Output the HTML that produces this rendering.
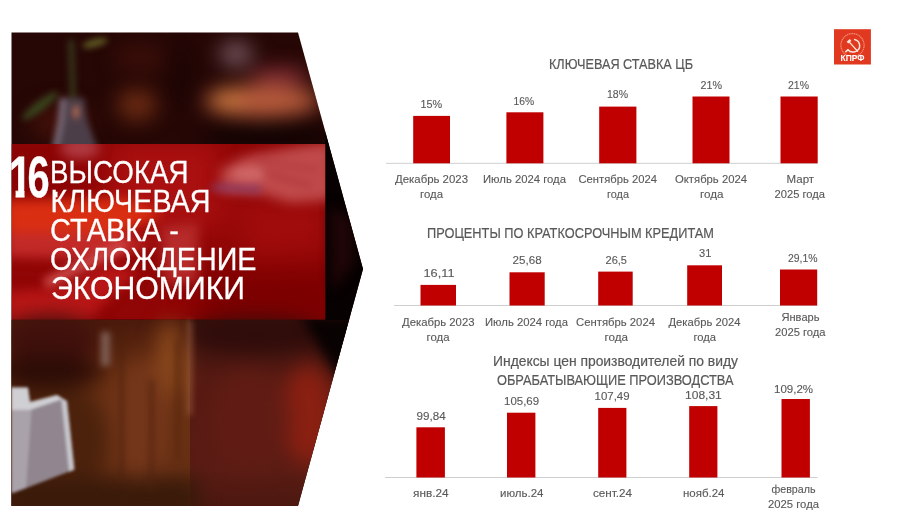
<!DOCTYPE html>
<html lang="ru">
<head>
<meta charset="utf-8">
<title>Высокая ключевая ставка - охлаждение экономики</title>
<style>
html,body{margin:0;padding:0;background:#fff;}
body{width:900px;height:517px;overflow:hidden;}
svg{display:block;font-family:"Liberation Sans", sans-serif;}
</style>
</head>
<body>
<svg width="900" height="517" viewBox="0 0 900 517">
<rect width="900" height="517" fill="#fff"/>
<defs>
<clipPath id="pc"><polygon points="11.5,32.5 298,32.5 363,269 298,506 11.5,506"/></clipPath>
<clipPath id="bc"><rect x="11.5" y="144" width="314" height="175.8"/></clipPath>
<filter id="b14" color-interpolation-filters="sRGB" x="-50%" y="-50%" width="200%" height="200%"><feGaussianBlur stdDeviation="14"/></filter>
<filter id="b10" color-interpolation-filters="sRGB" x="-50%" y="-50%" width="200%" height="200%"><feGaussianBlur stdDeviation="10"/></filter>
<filter id="b6" color-interpolation-filters="sRGB" x="-50%" y="-50%" width="200%" height="200%"><feGaussianBlur stdDeviation="6"/></filter>
<filter id="b4" color-interpolation-filters="sRGB" x="-50%" y="-50%" width="200%" height="200%"><feGaussianBlur stdDeviation="4"/></filter>
<filter id="b3" color-interpolation-filters="sRGB" x="-50%" y="-50%" width="200%" height="200%"><feGaussianBlur stdDeviation="3"/></filter>
<filter id="b15" color-interpolation-filters="sRGB" x="-50%" y="-50%" width="200%" height="200%"><feGaussianBlur stdDeviation="1.5"/></filter>
<linearGradient id="wood" x1="0" y1="0" x2="0" y2="1">
<stop offset="0" stop-color="#4a1a0c"/><stop offset="0.3" stop-color="#6a3012"/><stop offset="0.75" stop-color="#683014"/><stop offset="1" stop-color="#4c220e"/>
</linearGradient>
<linearGradient id="woodr" x1="0" y1="0" x2="0" y2="1">
<stop offset="0" stop-color="#36100c"/><stop offset="0.3" stop-color="#561a12"/><stop offset="0.75" stop-color="#5a1c14"/><stop offset="1" stop-color="#46160e"/>
</linearGradient>
<linearGradient id="fade" x1="0" y1="0" x2="0" y2="1"><stop offset="0" stop-color="#070101"/><stop offset="1" stop-color="#070101" stop-opacity="0"/></linearGradient>
<clipPath id="lc"><rect x="0" y="319.8" width="400" height="200"/></clipPath>
</defs>
<g clip-path="url(#pc)">
<rect x="0" y="20" width="380" height="500" fill="#260705"/>
<!-- top bokeh -->
<g filter="url(#b10)">
<ellipse cx="137" cy="105" rx="20" ry="16" fill="#6a2a12"/>
<ellipse cx="60" cy="122" rx="30" ry="18" fill="#42100a"/>
<ellipse cx="140" cy="58" rx="26" ry="14" fill="#3a0e08"/>
<ellipse cx="262" cy="101" rx="58" ry="16" fill="#b85c3c"/>
<ellipse cx="228" cy="100" rx="16" ry="9" fill="#d08040"/>
<ellipse cx="280" cy="76" rx="30" ry="8" fill="#8a3038"/>
<ellipse cx="236" cy="54" rx="17" ry="13" fill="#72525a"/>
<ellipse cx="182" cy="75" rx="12" ry="36" fill="#1c0504"/>
<ellipse cx="270" cy="136" rx="70" ry="10" fill="#0c0202"/>
</g>
<!-- plant + bottle -->
<g filter="url(#b3)">
<path d="M71 40 L73 100" stroke="#36361a" stroke-width="6" fill="none"/>
<ellipse cx="95" cy="43" rx="13" ry="4" fill="#5e5a22" transform="rotate(-15 95 43)"/>
<ellipse cx="40" cy="106" rx="22" ry="5" fill="#38421c" transform="rotate(-38 40 106)"/>
<path d="M60 98 L84 98 L87 120 L98 150 L52 150 L58 120 Z" fill="#4c3e48"/>
<path d="M60 98 L66 98 L64 122 L58 150 L52 150 L58 120 Z" fill="#7a6c7a"/>
<rect x="73" y="106" width="6" height="12" fill="#b06650"/>
</g>
<!-- red box region (final colours) -->
<g clip-path="url(#bc)">
<rect x="11.5" y="144" width="314" height="175.8" fill="#900505"/>
<g filter="url(#b14)">
<rect x="200" y="270" width="140" height="60" fill="#7c0000"/>
<rect x="0" y="150" width="60" height="40" fill="#860404"/>
<rect x="110" y="140" width="110" height="90" fill="#aa1010"/>
<path d="M225 200 L330 195 L330 250 L250 260 Z" fill="#a00c0c"/>
</g>
<g filter="url(#b6)">
<ellipse cx="80" cy="148" rx="20" ry="11" fill="#b03a42"/>
<path d="M5 200 L125 198 L165 214 L120 233 L5 233 Z" fill="#da2e12"/>
<path d="M5 233 L120 233 L155 246 L100 259 L5 257 Z" fill="#c22a28"/>
<path d="M5 292 L60 288 L110 264 L140 272 L105 302 L85 326 L5 326 Z" fill="#b81616"/>
<path d="M160 227 L198 222 L198 282 L165 284 Z" fill="#b62a2a"/>
<path d="M220 170 L245 156 L300 146 L332 142 L332 200 L290 203 L262 194 L222 192 Z" fill="#c04a4a"/>
</g>
<g filter="url(#b4)">
<path d="M45 284 L125 244" stroke="#cc4646" stroke-width="11" fill="none"/>
<ellipse cx="250" cy="174" rx="18" ry="7" fill="#cf6666"/>
<path d="M262 172 L312 186" stroke="#a83038" stroke-width="3" fill="none"/>
<path d="M258 160 L318 170" stroke="#a83038" stroke-width="2.5" fill="none"/>
<path d="M212 184 L262 186 L261 193 L212 191 Z" fill="#8a3a62"/>
</g>
</g>
<!-- bottom: wood -->
<rect x="0" y="319.8" width="190" height="200" fill="url(#wood)"/>
<rect x="190" y="319.8" width="190" height="200" fill="url(#woodr)"/>
<g filter="url(#b10)">
<ellipse cx="170" cy="360" rx="14" ry="40" fill="#8a481c"/>
<ellipse cx="140" cy="420" rx="30" ry="60" fill="#74361a"/>
<ellipse cx="308" cy="415" rx="26" ry="50" fill="#8a2012"/>
<ellipse cx="250" cy="420" rx="40" ry="50" fill="#601c14"/>
<ellipse cx="50" cy="340" rx="50" ry="24" fill="#40100c"/>
<ellipse cx="50" cy="440" rx="60" ry="60" fill="#4c220c"/>
<ellipse cx="45" cy="372" rx="60" ry="16" fill="#2c0c06"/>
<rect x="0" y="478" width="200" height="40" fill="#3a1a0a"/>
<ellipse cx="255" cy="335" rx="70" ry="16" fill="#2e0c0a"/>
</g>
<g filter="url(#b3)">
<rect x="101" y="332" width="9" height="34" fill="#7c5c52"/>
<rect x="188.5" y="320" width="2.5" height="95" fill="#b07050"/>
<rect x="120" y="330" width="3" height="150" fill="#4a200c"/>
<rect x="150" y="380" width="3" height="110" fill="#4e220e"/>
<rect x="176" y="340" width="3" height="120" fill="#54260e"/>
</g>
<!-- right side beside box: black -->
<rect x="325.5" y="130" width="50" height="190" fill="#070101"/>
<g clip-path="url(#lc)"><g filter="url(#b6)"><path d="M300 316 L380 316 L380 390 L340 380 L318 346 Z" fill="#090202"/></g></g>
<g filter="url(#b6)">
<path d="M330 205 L352 220 L354 262 L332 292 Z" fill="#200507"/>
</g>
<!-- white object -->
<g filter="url(#b15)">
<path d="M11 387.6 L28 387.6 L30 402 L57 395 L67 401 L74.4 469.4 L12 493.6 Z" fill="#91868f"/>
<path d="M11 400 L32 403 L26 488 L11 493 Z" fill="#aaa2aa"/>
<path d="M11 387.6 L28 387.6 L30 402 L57 395 L63 399 L30 410 L11 410 Z" fill="#cfcfd4"/>
<path d="M61 398 L67 401 L74.4 469.4 L69 472 Z" fill="#c6c6cc"/>
</g>
</g>

<clipPath id="c1"><polygon points="0,150 60,150 60,189.6 24.5,189.6 24.5,200 15.6,200 15.6,189.6 0,189.6"/></clipPath>
<text x="8.95" y="197" font-size="57.5" font-weight="bold" fill="#fff" stroke="#fff" stroke-width="0.8" textLength="22.4" lengthAdjust="spacingAndGlyphs" clip-path="url(#c1)">1</text>
<text x="27.5" y="197.0" font-size="57.5" fill="#fff" font-weight="bold" stroke="#fff" stroke-width="0.3" textLength="22.1" lengthAdjust="spacingAndGlyphs">6</text>
<text x="52.5" y="196.6" font-size="33.5" fill="#fff" font-weight="bold" stroke="#fff" stroke-width="0.3" textLength="6.4" lengthAdjust="spacingAndGlyphs">.</text>
<text x="50.0" y="182.5" font-size="32" fill="#fff" stroke="#fff" stroke-width="0.3" textLength="138.5" lengthAdjust="spacingAndGlyphs">ВЫСОКАЯ</text>
<text x="50.5" y="211.5" font-size="32" fill="#fff" stroke="#fff" stroke-width="0.3" textLength="160.0" lengthAdjust="spacingAndGlyphs">КЛЮЧЕВАЯ</text>
<text x="50.0" y="240.5" font-size="32" fill="#fff" stroke="#fff" stroke-width="0.3" textLength="129.0" lengthAdjust="spacingAndGlyphs">СТАВКА -</text>
<text x="50.0" y="269.5" font-size="32" fill="#fff" stroke="#fff" stroke-width="0.3" textLength="206.5" lengthAdjust="spacingAndGlyphs">ОХЛОЖДЕНИЕ</text>
<text x="51.0" y="298.5" font-size="32" fill="#fff" stroke="#fff" stroke-width="0.3" textLength="194.0" lengthAdjust="spacingAndGlyphs">ЭКОНОМИКИ</text>
<rect x="386.0" y="162.8" width="431.5" height="1" fill="#cfcfcf"/>
<rect x="413.2" y="115.9" width="36.8" height="47.4" fill="#c00000"/>
<rect x="506.4" y="112.3" width="37.0" height="51.0" fill="#c00000"/>
<rect x="599.2" y="106.6" width="37.2" height="56.7" fill="#c00000"/>
<rect x="692.5" y="96.5" width="37.0" height="66.8" fill="#c00000"/>
<rect x="780.5" y="96.5" width="37.2" height="66.8" fill="#c00000"/>
<rect x="394.0" y="305.0" width="423.5" height="1" fill="#cfcfcf"/>
<rect x="420.5" y="284.9" width="35.5" height="20.6" fill="#c00000"/>
<rect x="509.5" y="272.3" width="35.2" height="33.2" fill="#c00000"/>
<rect x="598.2" y="271.6" width="34.5" height="33.9" fill="#c00000"/>
<rect x="687.2" y="265.3" width="34.8" height="40.2" fill="#c00000"/>
<rect x="780.0" y="269.5" width="37.2" height="36.0" fill="#c00000"/>
<rect x="385.0" y="477.0" width="432.5" height="1" fill="#cfcfcf"/>
<rect x="416.4" y="427.3" width="28.5" height="50.2" fill="#c00000"/>
<rect x="507.0" y="412.7" width="28.4" height="64.8" fill="#c00000"/>
<rect x="598.2" y="407.9" width="28.2" height="69.6" fill="#c00000"/>
<rect x="689.2" y="406.1" width="28.2" height="71.4" fill="#c00000"/>
<rect x="781.5" y="399.0" width="28.4" height="78.5" fill="#c00000"/>
<text x="549.0" y="68.6" font-size="14.1" fill="#595959" stroke="#595959" stroke-width="0.2" textLength="144.0" lengthAdjust="spacingAndGlyphs">КЛЮЧЕВАЯ СТАВКА ЦБ</text>
<text x="420.5" y="108.3" font-size="11.2" fill="#595959" stroke="#595959" stroke-width="0.12" textLength="21.7" lengthAdjust="spacingAndGlyphs">15%</text>
<text x="513.5" y="104.8" font-size="11.2" fill="#595959" stroke="#595959" stroke-width="0.12" textLength="20.6" lengthAdjust="spacingAndGlyphs">16%</text>
<text x="607.0" y="98.3" font-size="11.2" fill="#595959" stroke="#595959" stroke-width="0.12" textLength="21.1" lengthAdjust="spacingAndGlyphs">18%</text>
<text x="700.5" y="89.0" font-size="11.2" fill="#595959" stroke="#595959" stroke-width="0.12" textLength="21.5" lengthAdjust="spacingAndGlyphs">21%</text>
<text x="788.0" y="88.5" font-size="11.2" fill="#595959" stroke="#595959" stroke-width="0.12" textLength="21.0" lengthAdjust="spacingAndGlyphs">21%</text>
<text x="395.0" y="183.0" font-size="11.2" fill="#595959" stroke="#595959" stroke-width="0.12" textLength="73.0" lengthAdjust="spacingAndGlyphs">Декабрь 2023</text>
<text x="420.0" y="198.2" font-size="11.2" fill="#595959" stroke="#595959" stroke-width="0.12" textLength="23.0" lengthAdjust="spacingAndGlyphs">года</text>
<text x="483.0" y="183.0" font-size="11.2" fill="#595959" stroke="#595959" stroke-width="0.12" textLength="83.0" lengthAdjust="spacingAndGlyphs">Июль 2024 года</text>
<text x="578.5" y="183.0" font-size="11.2" fill="#595959" stroke="#595959" stroke-width="0.12" textLength="78.5" lengthAdjust="spacingAndGlyphs">Сентябрь 2024</text>
<text x="607.0" y="198.2" font-size="11.2" fill="#595959" stroke="#595959" stroke-width="0.12" textLength="22.0" lengthAdjust="spacingAndGlyphs">года</text>
<text x="675.0" y="183.0" font-size="11.2" fill="#595959" stroke="#595959" stroke-width="0.12" textLength="72.0" lengthAdjust="spacingAndGlyphs">Октябрь 2024</text>
<text x="700.0" y="198.2" font-size="11.2" fill="#595959" stroke="#595959" stroke-width="0.12" textLength="23.5" lengthAdjust="spacingAndGlyphs">года</text>
<text x="786.5" y="183.0" font-size="11.2" fill="#595959" stroke="#595959" stroke-width="0.12" textLength="27.6" lengthAdjust="spacingAndGlyphs">Март</text>
<text x="774.5" y="198.2" font-size="11.2" fill="#595959" stroke="#595959" stroke-width="0.12" textLength="50.5" lengthAdjust="spacingAndGlyphs">2025 года</text>
<text x="427.0" y="238.2" font-size="14.1" fill="#595959" stroke="#595959" stroke-width="0.2" textLength="287.0" lengthAdjust="spacingAndGlyphs">ПРОЦЕНТЫ ПО КРАТКОСРОЧНЫМ КРЕДИТАМ</text>
<text x="423.5" y="277.3" font-size="11.2" fill="#595959" stroke="#595959" stroke-width="0.12" textLength="31.0" lengthAdjust="spacingAndGlyphs">16,11</text>
<text x="512.5" y="264.0" font-size="11.2" fill="#595959" stroke="#595959" stroke-width="0.12" textLength="29.1" lengthAdjust="spacingAndGlyphs">25,68</text>
<text x="605.5" y="264.0" font-size="11.2" fill="#595959" stroke="#595959" stroke-width="0.12" textLength="21.5" lengthAdjust="spacingAndGlyphs">26,5</text>
<text x="699.0" y="257.2" font-size="11.2" fill="#595959" stroke="#595959" stroke-width="0.12" textLength="12.3" lengthAdjust="spacingAndGlyphs">31</text>
<text x="788.0" y="261.5" font-size="11.2" fill="#595959" stroke="#595959" stroke-width="0.12" textLength="29.5" lengthAdjust="spacingAndGlyphs">29,1%</text>
<text x="402.0" y="325.6" font-size="11.2" fill="#595959" stroke="#595959" stroke-width="0.12" textLength="72.5" lengthAdjust="spacingAndGlyphs">Декабрь 2023</text>
<text x="426.5" y="340.7" font-size="11.2" fill="#595959" stroke="#595959" stroke-width="0.12" textLength="23.0" lengthAdjust="spacingAndGlyphs">года</text>
<text x="485.0" y="325.6" font-size="11.2" fill="#595959" stroke="#595959" stroke-width="0.12" textLength="83.0" lengthAdjust="spacingAndGlyphs">Июль 2024 года</text>
<text x="576.0" y="325.6" font-size="11.2" fill="#595959" stroke="#595959" stroke-width="0.12" textLength="79.0" lengthAdjust="spacingAndGlyphs">Сентябрь 2024</text>
<text x="604.5" y="340.7" font-size="11.2" fill="#595959" stroke="#595959" stroke-width="0.12" textLength="23.5" lengthAdjust="spacingAndGlyphs">года</text>
<text x="668.5" y="325.6" font-size="11.2" fill="#595959" stroke="#595959" stroke-width="0.12" textLength="72.0" lengthAdjust="spacingAndGlyphs">Декабрь 2024</text>
<text x="693.5" y="340.7" font-size="11.2" fill="#595959" stroke="#595959" stroke-width="0.12" textLength="22.6" lengthAdjust="spacingAndGlyphs">года</text>
<text x="781.5" y="320.6" font-size="11.2" fill="#595959" stroke="#595959" stroke-width="0.12" textLength="38.0" lengthAdjust="spacingAndGlyphs">Январь</text>
<text x="775.0" y="335.7" font-size="11.2" fill="#595959" stroke="#595959" stroke-width="0.12" textLength="50.5" lengthAdjust="spacingAndGlyphs">2025 года</text>
<text x="493.0" y="365.5" font-size="14.1" fill="#595959" stroke="#595959" stroke-width="0.2" textLength="245.0" lengthAdjust="spacingAndGlyphs">Индексы цен производителей по виду</text>
<text x="497.0" y="384.8" font-size="14.1" fill="#595959" stroke="#595959" stroke-width="0.2" textLength="236.5" lengthAdjust="spacingAndGlyphs">ОБРАБАТЫВАЮЩИЕ ПРОИЗВОДСТВА</text>
<text x="416.5" y="420.4" font-size="11.2" fill="#595959" stroke="#595959" stroke-width="0.12" textLength="29.1" lengthAdjust="spacingAndGlyphs">99,84</text>
<text x="504.0" y="405.4" font-size="11.2" fill="#595959" stroke="#595959" stroke-width="0.12" textLength="35.1" lengthAdjust="spacingAndGlyphs">105,69</text>
<text x="594.5" y="400.3" font-size="11.2" fill="#595959" stroke="#595959" stroke-width="0.12" textLength="35.1" lengthAdjust="spacingAndGlyphs">107,49</text>
<text x="685.0" y="399.0" font-size="11.2" fill="#595959" stroke="#595959" stroke-width="0.12" textLength="36.8" lengthAdjust="spacingAndGlyphs">108,31</text>
<text x="774.0" y="393.3" font-size="11.2" fill="#595959" stroke="#595959" stroke-width="0.12" textLength="39.1" lengthAdjust="spacingAndGlyphs">109,2%</text>
<text x="413.0" y="497.1" font-size="11.2" fill="#595959" stroke="#595959" stroke-width="0.12" textLength="35.6" lengthAdjust="spacingAndGlyphs">янв.24</text>
<text x="500.0" y="497.1" font-size="11.2" fill="#595959" stroke="#595959" stroke-width="0.12" textLength="43.5" lengthAdjust="spacingAndGlyphs">июль.24</text>
<text x="593.0" y="497.1" font-size="11.2" fill="#595959" stroke="#595959" stroke-width="0.12" textLength="39.0" lengthAdjust="spacingAndGlyphs">сент.24</text>
<text x="683.0" y="497.1" font-size="11.2" fill="#595959" stroke="#595959" stroke-width="0.12" textLength="41.5" lengthAdjust="spacingAndGlyphs">нояб.24</text>
<text x="771.5" y="492.6" font-size="11.2" fill="#595959" stroke="#595959" stroke-width="0.12" textLength="44.0" lengthAdjust="spacingAndGlyphs">февраль</text>
<text x="768.0" y="508.2" font-size="11.2" fill="#595959" stroke="#595959" stroke-width="0.12" textLength="51.0" lengthAdjust="spacingAndGlyphs">2025 года</text>
<rect x="834" y="29.2" width="36.9" height="35.3" fill="#e0391f"/>
<circle cx="852.5" cy="45.2" r="11.6" fill="none" stroke="#f39a82" stroke-width="1.1" stroke-dasharray="1.2 0.6"/>
<g fill="none" stroke="#ffe6dc" stroke-linecap="round">
<path d="M854.6 39.6 C860.8 41.2 861.6 49.4 855.4 51.6 C852.4 52.6 849.4 51.6 847.9 49.8" stroke-width="1.5"/>
<path d="M847.9 49.8 L845.9 51.6" stroke-width="1.6"/>
<path d="M849.6 42.4 L857.6 51.2" stroke-width="1.3"/>
<path d="M847.4 42.6 L850.6 40.0" stroke-width="2.4" stroke-linecap="butt"/>
</g>

<text x="840.5" y="61.4" font-size="8.2" fill="#fff" font-weight="bold" textLength="24.0" lengthAdjust="spacingAndGlyphs">КПРФ</text>
</svg>
</body>
</html>
